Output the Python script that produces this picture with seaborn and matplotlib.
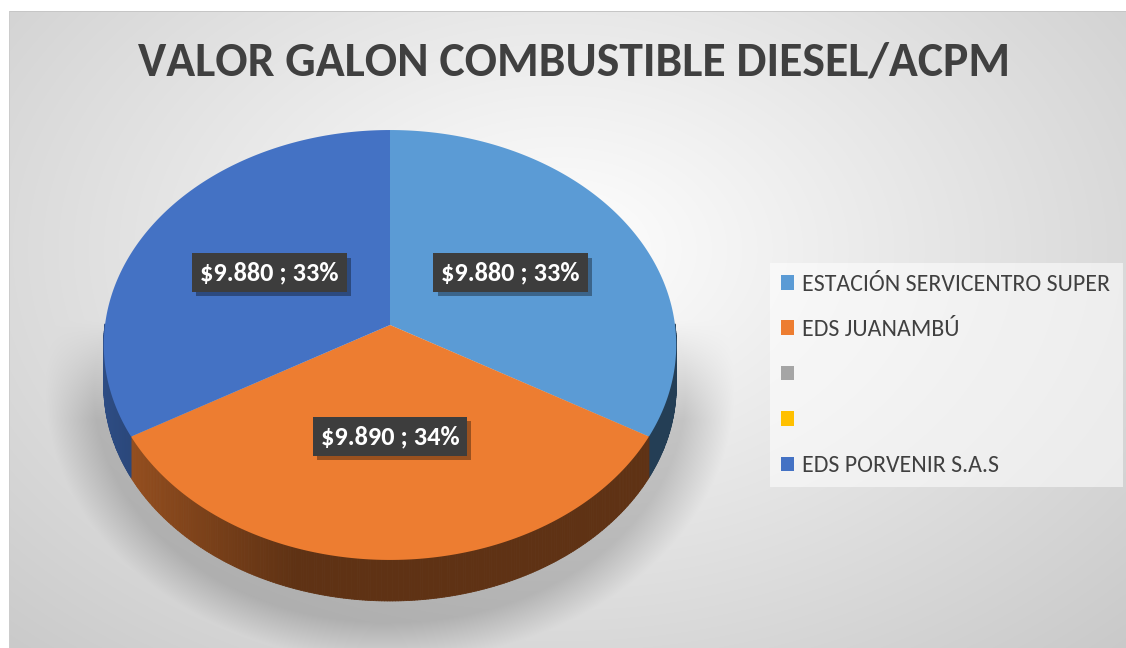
import numpy as np
import matplotlib
matplotlib.use("Agg")
import matplotlib.pyplot as plt
import seaborn as sns
from matplotlib.transforms import Transform
from matplotlib.path import Path
from matplotlib.collections import PolyCollection
from matplotlib import font_manager
import matplotlib.patheffects as pe

# ---------------- data ----------------
title = "VALOR GALON COMBUSTIBLE DIESEL/ACPM"
stations = ["ESTACIÓN SERVICENTRO SUPER", "EDS JUANAMBÚ", "", "", "EDS PORVENIR S.A.S"]
prices = [9880, 9890, 0, 0, 9880]
slice_colors = ["#5B9BD5", "#ED7D31", "#A5A5A5", "#FFC000", "#4472C4"]

# ---------------- style ----------------
sns.set_theme(style="white")
avail = {f.name for f in font_manager.fontManager.ttflist}


def pick(*names):
    for n in names:
        if n in avail:
            return n
    return "DejaVu Sans"


FONT = pick("Carlito", "Lato", "Open Sans")
plt.rcParams["font.family"] = [FONT, "DejaVu Sans"]
palette = sns.color_palette(slice_colors)

W, H = 1126, 648
fig = plt.figure(figsize=(W / 100, H / 100), dpi=100)
ax = fig.add_axes([0, 0, 1, 1])

# ---------------- background (radial gradient + pie shadow) ----------------
yy, xx = np.mgrid[0:H, 0:W] + 0.5
r = np.sqrt(((xx - 560) / 620) ** 2 + ((yy - 250) / 420) ** 2)
v = 1 - 0.16 * np.clip(r, 0, 1.6)
s = np.sqrt(((xx - 390) / 305) ** 2 + ((yy - 390) / 240) ** 2)
shadow = np.clip((1.13 - s) / 0.16, 0, 1) * np.clip((yy - 320) / 100, 0, 1)
v = v - 0.16 * shadow
bg = np.dstack([v, v, v])
bg[:11, :, :] = 1.0
bg[:, :9, :] = 1.0
bg[11, 9:, :] = 0.78
bg[11:, 9, :] = 0.80
ax.imshow(bg, extent=[0, W, 0, H], origin="upper", aspect="auto", zorder=0,
          interpolation="nearest")

# ---------------- perspective projection of pie plane ----------------
CX, CY, RX, RY, B = 390.0, 323.0, 285.0, 213.1, 0.093
DEPTH = 41.0


def project(x, y):
    den = 1 + B * y
    return CX + RX * x / den, CY + RY * y / den


class Persp(Transform):
    input_dims = output_dims = 2
    is_separable = False
    has_inverse = False

    def transform_non_affine(self, values):
        values = np.asarray(values, float).reshape(-1, 2)
        px, py = project(values[:, 0], values[:, 1])
        return np.column_stack([px, py])

    def transform_path_non_affine(self, path):
        pts = []
        for seg, code in path.iter_bezier():
            cp = seg.control_points
            if code == Path.MOVETO:
                pts.append(cp[0])
                continue
            n = 2 if len(cp) == 2 else 40
            t = np.linspace(0, 1, n)[1:]
            pts.extend(np.atleast_2d(seg(t)))
        if len(pts) < 3:
            return Path(np.zeros((1, 2)), [Path.MOVETO])
        tp = self.transform_non_affine(np.array(pts))
        tp = np.vstack([tp, tp[:1]])
        c = np.full(len(tp), Path.LINETO, dtype=Path.code_type)
        c[0] = Path.MOVETO
        c[-1] = Path.CLOSEPOLY
        return Path(tp, c)


# percent labels (rounded to sum 100, like the spreadsheet)
total = float(sum(prices))
raw = np.array(prices) / total * 100
fl = np.floor(raw)
k = int(round(100 - fl.sum()))
pct_int = fl.copy()
pct_int[np.argsort(-(raw - fl))[:k]] += 1
label_txt = [("$" + f"{p:,.0f}".replace(",", ".") + f" ; {int(q)}%") if p > 0 else ""
             for p, q in zip(prices, pct_int)]
it = iter(label_txt)

wedges, _, autotexts = ax.pie(
    prices, colors=palette, startangle=90, counterclock=False,
    autopct=lambda pct: next(it), pctdistance=0.5,
    wedgeprops=dict(linewidth=0),
    textprops=dict(color="white", fontsize=19, fontweight="bold"))

ptrans = Persp() + ax.transData
for w in wedges:
    w.set_transform(ptrans)
    w.set_zorder(3)

# side walls
polys, cols = [], []
for w, col in zip(wedges, palette):
    if abs(w.theta2 - w.theta1) < 1e-9:
        continue
    ang = np.radians(np.linspace(w.theta1, w.theta2, 241))
    for a0, a1 in zip(ang[:-1], ang[1:]):
        am = 0.5 * (a0 + a1)
        if np.sin(am) >= 0:
            continue
        x0, y0 = project(np.cos(a0), np.sin(a0))
        x1, y1 = project(np.cos(a1), np.sin(a1))
        polys.append([(x0, y0 + 1), (x1, y1 + 1), (x1, y1 - DEPTH), (x0, y0 - DEPTH)])
        f = 0.40 + 0.28 * np.clip((-np.cos(am) - 0.3) / 0.7, 0, 1)
        cols.append(tuple(np.array(col) * f))
ax.add_collection(PolyCollection(polys, facecolors=cols, edgecolors=cols,
                                 linewidths=0.6, zorder=2))

for t in autotexts:
    t.set_transform(ptrans)
    t.set_zorder(6)
    t.set_bbox(dict(boxstyle="square,pad=0.3", facecolor="#3d3d3d", edgecolor="none"))
    t.get_bbox_patch().set_path_effects(
        [pe.SimplePatchShadow(offset=(3, -3), shadow_rgbFace="black", alpha=0.35), pe.Normal()])

ax.set_aspect("auto")
ax.set_xlim(0, W)
ax.set_ylim(0, H)
ax.axis("off")

# ---------------- legend ----------------
leg = ax.legend(wedges, stations, loc="center",
                bbox_to_anchor=(770 / W, (H - 488) / H, 353 / W, 226 / H),
                mode="expand", frameon=True, fancybox=False, fontsize=17.2,
                handlelength=0.55, handleheight=0.55, handletextpad=0.35,
                labelspacing=1.02, borderpad=0.45, borderaxespad=0)
leg.get_frame().set_facecolor("white")
leg.get_frame().set_alpha(0.55)
leg.get_frame().set_edgecolor("none")
for txt in leg.get_texts():
    txt.set_color("#404040")

# ---------------- title ----------------
fig.text(574 / W, 1 - 63 / H, title, ha="center", va="center", fontsize=34.4,
         fontweight="bold", color="#404040")

fig.savefig("out.png", dpi=100)
